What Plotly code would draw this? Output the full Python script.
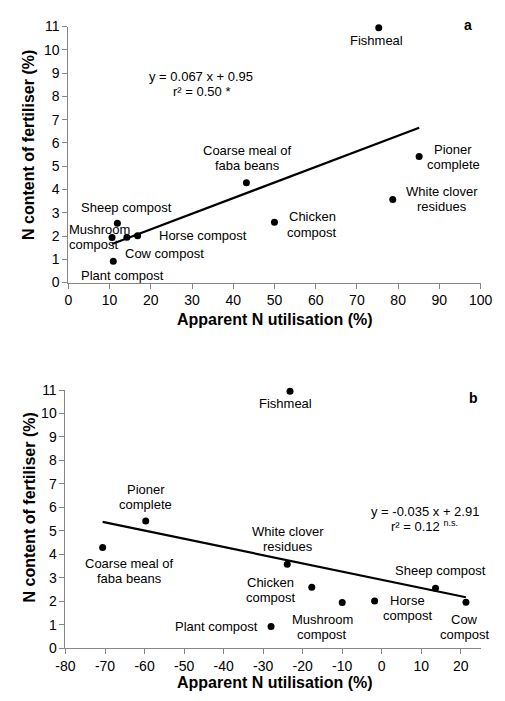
import plotly.graph_objects as go

# ---------------- data ----------------
names = ["Fishmeal", "Pioner complete", "White clover residues", "Chicken compost",
         "Coarse meal of faba beans", "Sheep compost", "Mushroom compost",
         "Cow compost", "Horse compost", "Plant compost"]
n_content = [10.95, 5.42, 3.57, 2.59, 4.29, 2.55, 1.94, 1.95, 2.01, 0.92]
util_a = [75.3, 85.1, 78.7, 50.0, 43.2, 11.9, 10.6, 14.2, 16.8, 10.9]
util_b = [-23.2, -59.7, -23.9, -17.7, -70.6, 13.6, -10.0, 21.3, -1.8, -28.0]

fit_a = {"slope": 0.067, "intercept": 0.95}
fit_b = {"slope": -0.035, "intercept": 2.91}

ticks_xa = list(range(0, 101, 10))
ticks_xb = list(range(-80, 21, 10))
ticks_y = list(range(0, 12))

labels_a = {
    "Fishmeal": ["Fishmeal"],
    "Pioner complete": ["Pioner", "complete"],
    "White clover residues": ["White clover", "residues"],
    "Chicken compost": ["Chicken", "compost"],
    "Coarse meal of faba beans": ["Coarse meal of", "faba beans"],
    "Sheep compost": ["Sheep compost"],
    "Mushroom compost": ["Mushroom", "compost"],
    "Cow compost": ["Cow compost"],
    "Horse compost": ["Horse compost"],
    "Plant compost": ["Plant compost"],
}
labels_b = {
    "Fishmeal": ["Fishmeal"],
    "Pioner complete": ["Pioner", "complete"],
    "White clover residues": ["White clover", "residues"],
    "Chicken compost": ["Chicken", "compost"],
    "Coarse meal of faba beans": ["Coarse meal of", "faba beans"],
    "Sheep compost": ["Sheep compost"],
    "Mushroom compost": ["Mushroom", "compost"],
    "Cow compost": ["Cow", "compost"],
    "Horse compost": ["Horse", "compost"],
    "Plant compost": ["Plant compost"],
}

# ---------------- label placement (pixels: dx, list of dy downwards, anchor) ----------------
pos_a = {
    "Fishmeal": (-2, [13], "center"),
    "Pioner complete": (34, [-7, 8], "center"),
    "White clover residues": (49, [-8, 7], "center"),
    "Chicken compost": (38, [-6, 10], "center"),
    "Coarse meal of faba beans": (1, [-32, -17], "center"),
    "Sheep compost": (9, [-16], "center"),
    "Mushroom compost": (-45, [-8, 7], "left"),
    "Cow compost": (38, [16], "center"),
    "Horse compost": (65, [0], "center"),
    "Plant compost": (9, [14], "center"),
}
pos_b = {
    "Fishmeal": (-5, [12], "center"),
    "Pioner complete": (0, [-31, -16], "center"),
    "White clover residues": (1, [-33, -18], "center"),
    "Chicken compost": (-41, [-5, 10], "center"),
    "Coarse meal of faba beans": (27, [16, 31], "center"),
    "Sheep compost": (5, [-18], "center"),
    "Mushroom compost": (-20, [17, 32], "center"),
    "Cow compost": (-1, [17, 32], "center"),
    "Horse compost": (33, [0, 15], "center"),
    "Plant compost": (-55, [0], "center"),
}

W, H = 505, 701
FONT = "Liberation Sans, Arial, sans-serif"
AXC = "#868686"


def px(x):
    return x / W


def py(y):
    return 1 - y / H


fig = go.Figure()

for xs, fit, xa, ya in [(util_a, fit_a, "x", "y"), (util_b, fit_b, "x2", "y2")]:
    x0, x1 = min(xs), max(xs)
    fig.add_trace(go.Scatter(
        x=[x0, x1],
        y=[fit["slope"] * x0 + fit["intercept"], fit["slope"] * x1 + fit["intercept"]],
        mode="lines", xaxis=xa, yaxis=ya, cliponaxis=False,
        line=dict(color="black", width=2.2), showlegend=False, hoverinfo="skip"))
    fig.add_trace(go.Scatter(
        x=xs, y=n_content, mode="markers", xaxis=xa, yaxis=ya, cliponaxis=False,
        marker=dict(color="black", size=7), showlegend=False, hoverinfo="x+y"))

annotations = []
for xs, labels, pos, xr, yr in [(util_a, labels_a, pos_a, "x", "y"),
                                (util_b, labels_b, pos_b, "x2", "y2")]:
    for i, nm in enumerate(names):
        dx, dys, anchor = pos[nm]
        for line, dy in zip(labels[nm], dys):
            annotations.append(dict(
                x=xs[i], y=n_content[i], xref=xr, yref=yr, text=line,
                showarrow=False, xshift=dx, yshift=-dy,
                xanchor=anchor, yanchor="middle", align=anchor,
                font=dict(family=FONT, size=13, color="black")))

# equations
eq = [
    ("y = 0.067 x + 0.95", 200, 70),
    ("r² = 0.50 *", 200, 85),
    ("y = -0.035 x + 2.91", 434, 515),
    ("r² = 0.12 <sup>n.s.</sup>", 433, 530),
]
for t, x, y in eq:
    annotations.append(dict(x=px(x), y=py(y), xref="paper", yref="paper", text=t,
                            showarrow=False, xanchor="center", yanchor="middle",
                            font=dict(family=FONT, size=13, color="black")))

# panel letters
for t, x, y in [("<b>a</b>", 479, 17), ("<b>b</b>", 485, 399)]:
    annotations.append(dict(x=px(x), y=py(y), xref="paper", yref="paper", text=t,
                            showarrow=False, xanchor="center", yanchor="middle",
                            font=dict(family=FONT, size=14, color="black")))

# axis titles
for x, y in [(277, 319), (277, 690)]:
    annotations.append(dict(x=px(x), y=py(y), xref="paper", yref="paper",
                            text="<b>Apparent N utilisation (%)</b>",
                            showarrow=False, xanchor="center", yanchor="middle",
                            font=dict(family=FONT, size=16, color="black")))
for x, y in [(20, 140), (20, 511)]:
    annotations.append(dict(x=px(x), y=py(y), xref="paper", yref="paper",
                            text="<b>N content of fertiliser (%)</b>", textangle=-90,
                            showarrow=False, xanchor="center", yanchor="middle",
                            font=dict(family=FONT, size=16, color="black")))

axis_common = dict(showgrid=False, zeroline=False, showline=True, linecolor=AXC,
                   linewidth=1, ticks="outside", tickcolor=AXC, ticklen=5, tickwidth=1,
                   tickfont=dict(family=FONT, size=14, color="black"), mirror=False)

fig.update_layout(
    width=W, height=H, margin=dict(l=0, r=0, t=0, b=0),
    paper_bgcolor="white", plot_bgcolor="white", showlegend=False,
    xaxis=dict(domain=[px(61), px(492)], range=[0, 100], tickvals=ticks_xa,
               ticktext=[str(v) for v in ticks_xa], anchor="y", **axis_common),
    yaxis=dict(domain=[py(281), py(19)], range=[0, 11], tickvals=ticks_y,
               ticktext=[str(v) for v in ticks_y], anchor="x", **axis_common),
    xaxis2=dict(domain=[px(58), px(492)], range=[-80, 25], tickvals=ticks_xb,
                ticktext=[str(v) for v in ticks_xb], anchor="y2", **axis_common),
    yaxis2=dict(domain=[py(655), py(391)], range=[0, 11], tickvals=ticks_y,
                ticktext=[str(v) for v in ticks_y], anchor="x2", **axis_common),
    annotations=annotations,
)

fig.write_html("out.html")
